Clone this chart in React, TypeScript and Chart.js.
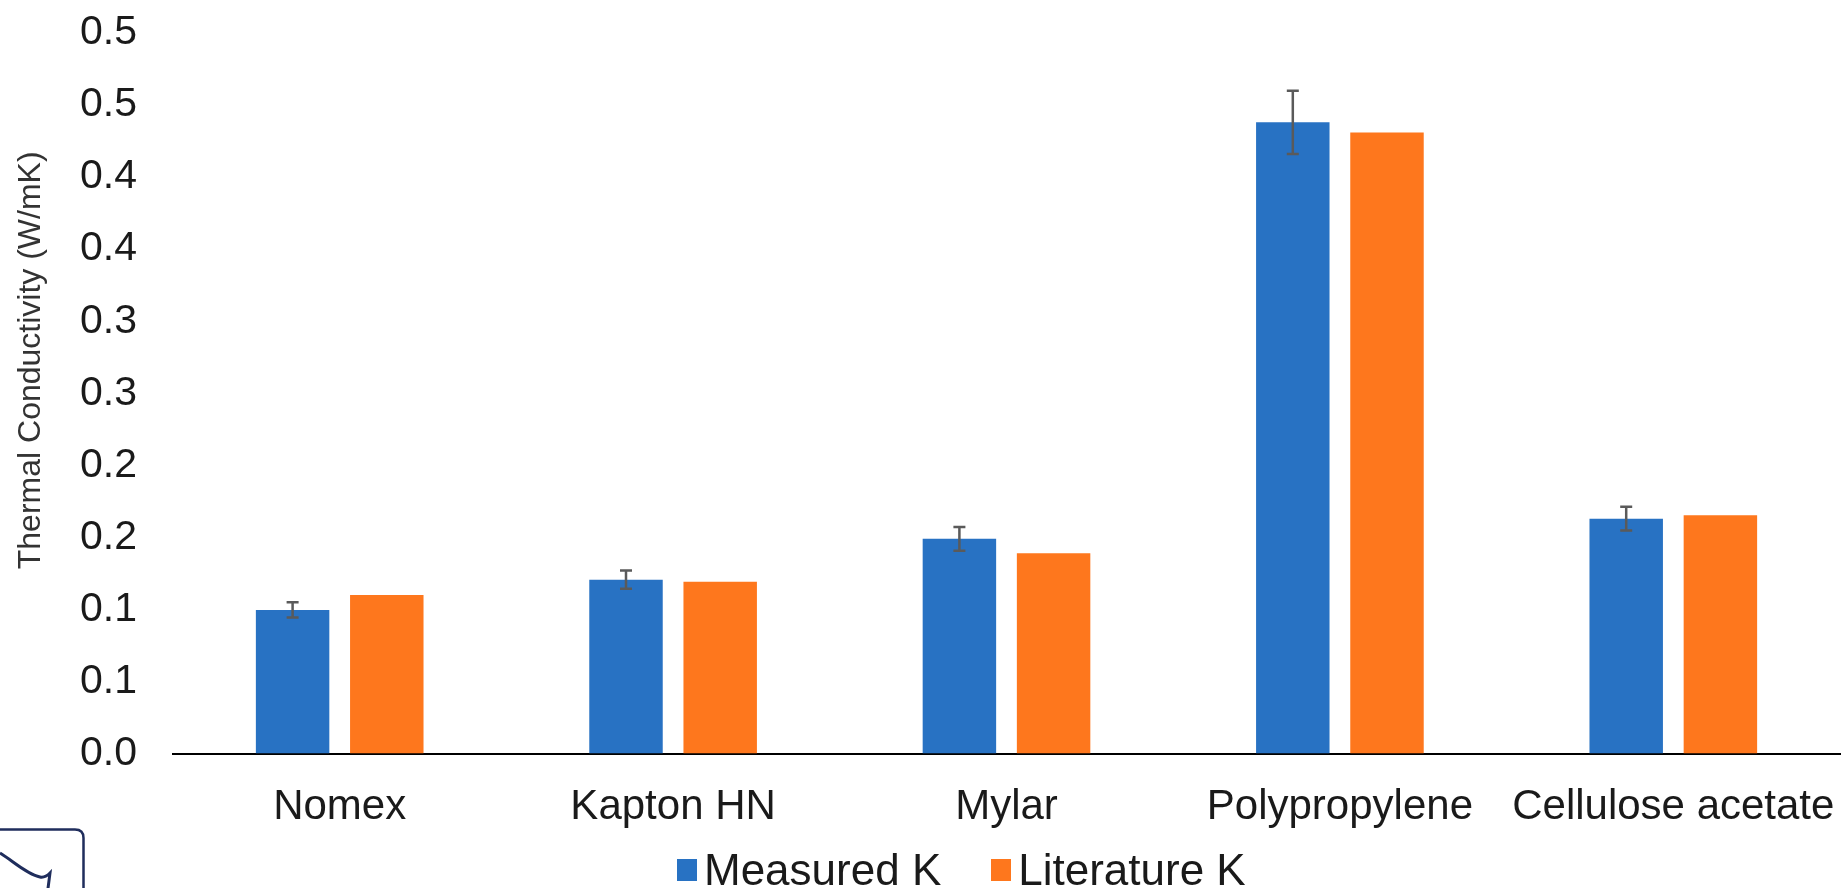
import React, { useEffect, useRef } from "react";
import { Chart, registerables } from "chart.js";

Chart.register(...registerables);

const categories = ["Nomex", "Kapton HN", "Mylar", "Polypropylene", "Cellulose acetate"];
const seriesNames = ["Measured K", "Literature K"];
const seriesColors = ["#2872c3", "#fe771d"];
const measuredK = [0.0997, 0.1207, 0.149, 0.438, 0.163];
const measuredErr = [0.0053, 0.0064, 0.0082, 0.022, 0.0082];
const literatureK = [0.11, 0.1193, 0.139, 0.431, 0.1653];
const yTickValues = [0, 0.05, 0.1, 0.15, 0.2, 0.25, 0.3, 0.35, 0.4, 0.45, 0.5];
const yTickLabels = ["0.0", "0.1", "0.1", "0.2", "0.2", "0.3", "0.3", "0.4", "0.4", "0.5", "0.5"];
const yTitle = "Thermal Conductivity (W/mK)";

const FONT = '"Liberation Sans", Arial, sans-serif';

const errorBarPlugin = {
  id: "errorBars",
  afterDatasetsDraw(chart: any) {
    const meta = chart.getDatasetMeta(0);
    const yScale = chart.scales.y;
    const ctx = chart.ctx;
    ctx.save();
    ctx.strokeStyle = "#5a5a5a";
    ctx.lineWidth = 2.5;
    meta.data.forEach((bar: any, i: number) => {
      const v = measuredK[i];
      const e = measuredErr[i];
      const yTop = yScale.getPixelForValue(v + e);
      const yBot = yScale.getPixelForValue(v - e);
      const x = bar.x;
      const cap = 6;
      ctx.beginPath();
      ctx.moveTo(x, yTop);
      ctx.lineTo(x, yBot);
      ctx.moveTo(x - cap, yTop);
      ctx.lineTo(x + cap, yTop);
      ctx.moveTo(x - cap, yBot);
      ctx.lineTo(x + cap, yBot);
      ctx.stroke();
    });
    ctx.restore();
  },
};

const yTitlePlugin = {
  id: "yTitle",
  afterDraw(chart: any) {
    const ctx = chart.ctx;
    const area = chart.chartArea;
    ctx.save();
    ctx.translate(31, (area.top + area.bottom) / 2 - 33);
    ctx.rotate(-Math.PI / 2);
    ctx.font = `32px ${FONT}`;
    ctx.fillStyle = "#333333";
    ctx.textAlign = "center";
    ctx.textBaseline = "middle";
    ctx.fillText(yTitle, 0, 0);
    ctx.restore();
  },
};

export default function App() {
  const canvasRef = useRef<HTMLCanvasElement | null>(null);

  useEffect(() => {
    document.body.style.margin = "0";
    const canvas = canvasRef.current;
    if (!canvas) return;
    const chart = new Chart(canvas, {
      type: "bar",
      data: {
        labels: categories,
        datasets: [
          {
            label: seriesNames[0],
            data: measuredK,
            backgroundColor: seriesColors[0],
            borderWidth: 0,
            categoryPercentage: 0.565,
            barPercentage: 0.78,
          },
          {
            label: seriesNames[1],
            data: literatureK,
            backgroundColor: seriesColors[1],
            borderWidth: 0,
            categoryPercentage: 0.565,
            barPercentage: 0.78,
          },
        ],
      },
      options: {
        animation: false,
        responsive: true,
        maintainAspectRatio: false,
        layout: { autoPadding: false, padding: { top: 33, right: 7, bottom: 26, left: 44 } },
        plugins: {
          legend: { display: false },
          tooltip: { enabled: false },
        },
        scales: {
          x: {
            grid: { display: false, drawTicks: false },
            border: { display: true, color: "#000000", width: 2 },
            afterFit(scale: any) {
              scale.paddingLeft = 0;
              scale.paddingRight = 0;
            },
            ticks: {
              padding: 29,
              color: "#1a1a1a",
              font: { family: FONT, size: 42 },
              maxRotation: 0,
              autoSkip: false,
            },
          },
          y: {
            min: 0,
            max: 0.5,
            grid: { display: false, drawTicks: false },
            border: { display: false },
            afterBuildTicks(scale: any) {
              scale.ticks = yTickValues.map((v) => ({ value: v }));
            },
            afterFit(scale: any) {
              scale.paddingTop = 0;
              scale.paddingBottom = 0;
            },
            ticks: {
              padding: 36,
              color: "#1a1a1a",
              font: { family: FONT, size: 41 },
              callback: (_v: any, i: number) => yTickLabels[i],
            },
          },
        },
      },
      plugins: [errorBarPlugin, yTitlePlugin],
    });
    return () => chart.destroy();
  }, []);

  return (
    <div style={{ position: "relative", width: 1847, height: 888, background: "#ffffff", overflow: "hidden" }}>
      <canvas ref={canvasRef} />
      <div
        style={{
          position: "absolute",
          left: 677,
          top: 848,
          display: "flex",
          alignItems: "center",
          fontFamily: FONT,
          fontSize: 44,
          lineHeight: "44px",
          color: "#1a1a1a",
        }}
      >
        {seriesNames.map((name, i) => (
          <div key={name} style={{ display: "flex", alignItems: "center", marginLeft: i === 0 ? 0 : 50 }}>
            <span style={{ display: "inline-block", width: 20, height: 22, background: seriesColors[i], marginRight: 7 }} />
            <span>{name}</span>
          </div>
        ))}
      </div>
      <svg width={90} height={62} style={{ position: "absolute", left: 0, top: 826 }}>
        <path
          d="M -5 3.5 L 75 3.5 Q 83.5 3.5 83.5 12 L 83.5 70"
          fill="none"
          stroke="#1f2d5c"
          strokeWidth={2.5}
        />
        <path
          d="M 0 27 C 12 34, 26 48, 40 51 C 45 52, 48 49, 50 47 L 47 70"
          fill="none"
          stroke="#1f2d5c"
          strokeWidth={3}
        />
      </svg>
    </div>
  );
}
